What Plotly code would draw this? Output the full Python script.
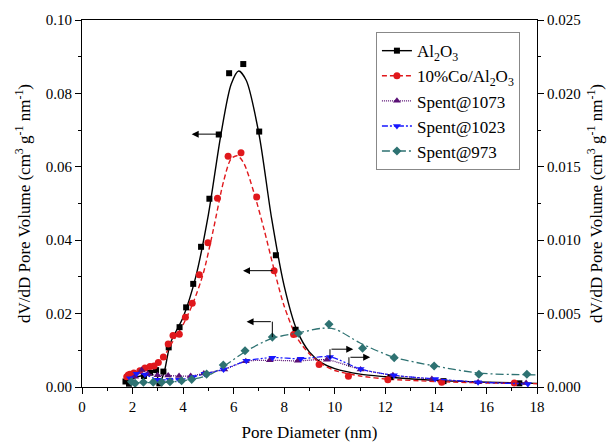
import plotly.graph_objects as go

# ---------------- data ----------------
al_x = [1.72, 1.86, 2.45, 2.69, 2.93, 3.06, 3.22, 3.43, 3.86, 4.12, 4.40, 4.71, 5.04, 5.41, 5.82, 6.38, 7.01, 7.67, 8.45, 12.2, 14.3, 17.3]
al_y = [0.0015, 0.0009, 0.0030, 0.0039, 0.0046, 0.0010, 0.0042, 0.0108, 0.0163, 0.0217, 0.0281, 0.0382, 0.0513, 0.0688, 0.0855, 0.0880, 0.0696, 0.0359, 0.0156, 0.0027, 0.0016, 0.0010]
al_fit_x = [1.72, 2.2, 2.6, 2.9, 3.06, 3.25, 3.5, 4.0, 4.5, 5.0, 5.5, 5.9, 6.2, 6.5, 7.0, 7.5, 8.0, 8.5, 9.0, 9.5, 10.0, 11.0, 12.0, 14.0, 16.0, 18.0]
al_fit_y = [0.0014, 0.0028, 0.0035, 0.0045, 0.0010, 0.0040, 0.0120, 0.0190, 0.0300, 0.0470, 0.0690, 0.0825, 0.0861, 0.0835, 0.0690, 0.0460, 0.0275, 0.0155, 0.0095, 0.0065, 0.0050, 0.0035, 0.0028, 0.0018, 0.0013, 0.0010]

co_x = [1.77, 1.83, 1.9, 2.05, 2.29, 2.49, 2.69, 2.85, 3.02, 3.22, 3.41, 3.6, 3.85, 4.09, 4.36, 4.64, 4.98, 5.36, 5.78, 6.29, 6.91, 7.60, 8.37, 9.38, 10.54, 12.1, 14.23, 17.1]
co_y = [0.0028, 0.0033, 0.0035, 0.0038, 0.0044, 0.0052, 0.0056, 0.0057, 0.0067, 0.0082, 0.0117, 0.0140, 0.0144, 0.0190, 0.0228, 0.0306, 0.0393, 0.0514, 0.0629, 0.0638, 0.0518, 0.0317, 0.0143, 0.0061, 0.0029, 0.0020, 0.0013, 0.0011]
co_fit_x = [1.77, 2.2, 2.6, 3.0, 3.3, 3.6, 4.0, 4.4, 4.8, 5.2, 5.6, 5.9, 6.15, 6.4, 6.8, 7.2, 7.6, 8.0, 8.5, 9.0, 9.5, 10.0, 11.0, 12.0, 14.0, 16.0, 18.0]
co_fit_y = [0.0026, 0.0036, 0.0050, 0.0065, 0.0090, 0.0125, 0.0170, 0.0230, 0.0310, 0.0430, 0.0560, 0.0622, 0.0630, 0.0610, 0.0530, 0.0430, 0.0320, 0.0220, 0.0135, 0.0090, 0.0062, 0.0045, 0.0030, 0.0022, 0.0015, 0.0011, 0.0009]

s1073_x = [2.1, 2.36, 2.6, 2.99, 3.41, 3.84, 4.3, 4.82, 5.63, 6.48, 7.43, 8.54, 9.69, 11.02, 12.3, 13.84, 15.67, 17.57]
s1073_y = [0.0007, 0.00115, 0.0009, 0.0008, 0.00078, 0.00075, 0.00075, 0.00092, 0.0012, 0.00175, 0.00182, 0.00178, 0.00185, 0.0012, 0.0008, 0.00055, 0.00033, 0.00028]

s1023_x = [1.9, 2.16, 2.49, 2.99, 3.46, 3.84, 4.39, 4.85, 5.6, 6.5, 7.53, 8.65, 9.81, 11.02, 12.34, 13.97, 15.67, 17.64]
s1023_y = [0.0006, 0.0009, 0.00085, 0.0005, 0.0005, 0.0005, 0.00068, 0.0009, 0.0012, 0.00178, 0.0020, 0.00192, 0.00205, 0.00122, 0.0008, 0.00055, 0.00033, 0.0002]

s973_x = [1.96, 2.1, 2.43, 2.82, 3.15, 3.48, 3.94, 4.34, 4.93, 5.59, 6.45, 7.53, 8.56, 9.77, 11.1, 12.35, 13.93, 15.7, 17.6]
s973_y = [0.00036, 0.00025, 0.00032, 0.00033, 0.00033, 0.00036, 0.00043, 0.00052, 0.00088, 0.0015, 0.00247, 0.0034, 0.00366, 0.00427, 0.00264, 0.0020, 0.00143, 0.00087, 0.00087]
s973_fit_x = [1.96, 3.0, 4.0, 5.0, 5.6, 6.5, 7.5, 8.6, 9.5, 10.0, 11.0, 12.3, 13.9, 15.7, 17.0, 18.0]
s973_fit_y = [0.0003, 0.0003, 0.00042, 0.0008, 0.0014, 0.00245, 0.0033, 0.0037, 0.0040, 0.00395, 0.0030, 0.00205, 0.00145, 0.00095, 0.00085, 0.00083]

names = ["Al<sub>2</sub>O<sub>3</sub>", "10%Co/Al<sub>2</sub>O<sub>3</sub>", "Spent@1073", "Spent@1023", "Spent@973"]

x_ticks = [0, 2, 4, 6, 8, 10, 12, 14, 16, 18]
yl_ticks = [0.00, 0.02, 0.04, 0.06, 0.08, 0.10]
yr_ticks = [0.000, 0.005, 0.010, 0.015, 0.020, 0.025]

# arrows (left-axis coordinates): head x, head y, tail x, tail y, optional vertical start y
arrows = [
    (4.34, 0.0689, 5.39, 0.0689, None),
    (6.37, 0.0317, 7.60, 0.0317, None),
    (6.51, 0.0178, 7.53, 0.0178, 0.0136),
    (10.73, 0.0103, 9.81, 0.0103, 0.0078),
    (11.40, 0.0081, 10.56, 0.0081, 0.0055),
]

# ---------------- styles ----------------
FONT = "Liberation Serif"


def serif(t):
    return '<span style="font-family:Liberation Serif">' + t + '</span>'


C_AL = "#000000"
C_CO = "#e0181c"
C_1073 = "#5a1075"
C_1023 = "#1717ff"
C_973 = "#2e7272"
D_CO = "5px,3px"
D_1073 = "1px,1px"
D_1023 = "6px,2px,2px,2px,2px,2px"
D_973 = "8px,3px,2px,3px"

fig = go.Figure()

# fitted curves / connecting lines (no legend)
fig.add_trace(go.Scatter(x=al_fit_x, y=al_fit_y, mode="lines", line=dict(color=C_AL, width=1.4, shape="spline", smoothing=0.8), showlegend=False))
fig.add_trace(go.Scatter(x=co_fit_x, y=co_fit_y, mode="lines", line=dict(color=C_CO, width=1.4, dash=D_CO, shape="spline", smoothing=0.8), showlegend=False))
fig.add_trace(go.Scatter(x=s973_fit_x, y=s973_fit_y, yaxis="y2", mode="lines", line=dict(color=C_973, width=1.3, dash=D_973, shape="spline", smoothing=0.8), showlegend=False))
fig.add_trace(go.Scatter(x=s1073_x, y=s1073_y, yaxis="y2", mode="lines", line=dict(color=C_1073, width=1.3, dash=D_1073, shape="spline", smoothing=0.8), showlegend=False))
fig.add_trace(go.Scatter(x=s1023_x, y=s1023_y, yaxis="y2", mode="lines", line=dict(color=C_1023, width=1.2, dash=D_1023, shape="spline", smoothing=0.8), showlegend=False))

# markers
fig.add_trace(go.Scatter(x=al_x, y=al_y, mode="markers", marker=dict(symbol="square", size=6, color=C_AL), showlegend=False))
fig.add_trace(go.Scatter(x=co_x, y=co_y, mode="markers", marker=dict(symbol="circle", size=7, color=C_CO), showlegend=False))
fig.add_trace(go.Scatter(x=s1073_x, y=s1073_y, yaxis="y2", mode="markers", marker=dict(symbol="triangle-up", size=7, color=C_1073), showlegend=False))
fig.add_trace(go.Scatter(x=s1023_x, y=s1023_y, yaxis="y2", mode="markers", marker=dict(symbol="triangle-down", size=7, color=C_1023), showlegend=False))
fig.add_trace(go.Scatter(x=s973_x, y=s973_y, yaxis="y2", mode="markers", marker=dict(symbol="diamond", size=7, color=C_973), showlegend=False))

# legend entries (placed outside the visible x range so only the legend shows them)
legend_styles = [
    (C_AL, "solid", "square", 6),
    (C_CO, D_CO, "circle", 7),
    (C_1073, D_1073, "triangle-up", 7),
    (C_1023, D_1023, "triangle-down", 7),
    (C_973, D_973, "diamond", 7),
]
for nm, (c, d, s, sz) in zip(names, legend_styles):
    fig.add_trace(go.Scatter(x=[-10, -9], y=[0.05, 0.05], mode="lines+markers", name=serif(nm),
                             line=dict(color=c, dash=d, width=1.4), marker=dict(symbol=s, size=sz, color=c)))

# arrows
for hx, hy, tx, ty, vy in arrows:
    if vy is not None:
        fig.add_shape(type="line", xref="x", yref="y", x0=tx, y0=vy, x1=tx, y1=ty, line=dict(color="black", width=1))
    fig.add_annotation(x=hx, y=hy, ax=tx, ay=ty, xref="x", yref="y", axref="x", ayref="y",
                       text="", showarrow=True, arrowhead=2, arrowsize=1.4, arrowwidth=1, arrowcolor="black")

ytitle = serif("dV/dD Pore Volume (cm<sup>3</sup> g<sup>-1</sup> nm<sup>-1</sup>)")
tick_font = dict(family=FONT, size=15, color="black")
title_font = dict(family=FONT, size=17, color="black")

fig.update_layout(
    width=616, height=443,
    margin=dict(l=82, r=79, t=20, b=56),
    paper_bgcolor="white", plot_bgcolor="white",
    font=dict(family=FONT, color="black"),
    showlegend=True,
    legend=dict(x=0.646, y=0.967, xanchor="left", yanchor="top", bgcolor="white",
                bordercolor="#888888", borderwidth=1, font=dict(family=FONT, size=17, color="black")),
)
fig.update_xaxes(range=[0, 18], tickvals=x_ticks, ticktext=[serif(str(v)) for v in x_ticks], mirror=True,
                 showline=True, linecolor="black", linewidth=1.2, ticks="outside", ticklen=6, tickwidth=1.2,
                 tickcolor="black", showgrid=False, zeroline=False, tickfont=tick_font, automargin=False,
                 minor=dict(dtick=1, ticks="outside", ticklen=3, tickcolor="black"),
                 title=dict(text=serif("Pore Diameter (nm)"), font=title_font, standoff=12))
fig.update_layout(
    yaxis=dict(range=[0, 0.10], tickvals=yl_ticks, ticktext=[serif(f"{v:.2f}") for v in yl_ticks],
               showline=True, linecolor="black", linewidth=1.2, ticks="outside", ticklen=6, tickwidth=1.2,
               tickcolor="black", showgrid=False, zeroline=False, tickfont=tick_font, automargin=False,
               minor=dict(dtick=0.01, ticks="outside", ticklen=3, tickcolor="black"),
               title=dict(text=ytitle, font=title_font, standoff=10)),
    yaxis2=dict(range=[0, 0.025], overlaying="y", side="right", tickvals=yr_ticks, ticktext=[serif(f"{v:.3f}") for v in yr_ticks],
                showline=True, linecolor="black", linewidth=1.2, ticks="outside", ticklen=6, tickwidth=1.2,
                tickcolor="black", showgrid=False, zeroline=False, tickfont=tick_font, automargin=False,
                minor=dict(dtick=0.0025, ticks="outside", ticklen=3, tickcolor="black"),
                title=dict(text=ytitle, font=title_font, standoff=10)),
)

fig.write_html("out.html")
